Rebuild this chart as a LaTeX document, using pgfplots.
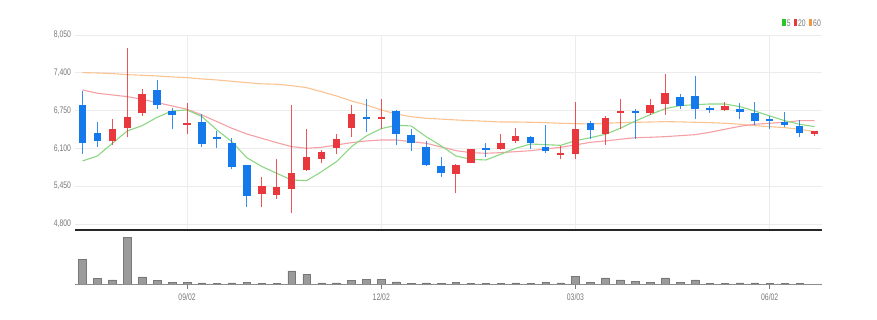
\documentclass[border=0pt]{standalone}
\usepackage{pgfplots}
\pgfplotsset{compat=1.18}
\usepackage{fontspec}
\setmainfont{Liberation Sans}[FakeStretch=0.72]
\definecolor{cred}{RGB}{232,56,61}
\definecolor{cblue}{RGB}{20,122,236}
\definecolor{cma5}{RGB}{140,215,130}
\definecolor{cma20}{RGB}{245,160,165}
\definecolor{cma60}{RGB}{250,195,145}
\definecolor{cgrid}{RGB}{236,236,236}
\definecolor{clabel}{RGB}{120,120,120}
\definecolor{cvol}{RGB}{155,155,155}
\definecolor{cvoledge}{RGB}{120,120,120}
\definecolor{cbase}{RGB}{140,140,140}
\definecolor{lg}{RGB}{40,200,40}
\definecolor{lr}{RGB}{232,56,61}
\definecolor{lo}{RGB}{245,150,60}
\begin{document}
\begin{tikzpicture}
\useasboundingbox (0,0) rectangle (877pt,320pt);
\begin{axis}[
  at={(75pt,90pt)}, anchor=south west, scale only axis,
  width=747pt, height=195pt,
  xmin=-0.5, xmax=49.5, ymin=4697, ymax=8050,
  ytick={4800,5450,6100,6750,7400,8050},
  xtick={7,20,33,46}, xticklabels={},
  ymajorgrids, xmajorgrids, grid style={color=cgrid, line width=0.8pt},
  axis line style={draw=none}, major tick length=0pt,
  yticklabel style={font=\fontsize{9.5}{11}\selectfont, text=clabel, xshift=-0.5pt},
  /pgf/number format/assume math mode=true,
  unbounded coords=jump,
]
% moving averages
\addplot[cma60, line width=1.1pt, mark=none] coordinates {
(0,7403)(1,7397)(2,7386)(3,7368)(4,7357)(5,7346)(6,7328)(7,7317)(8,7294)(9,7277)
(10,7254)(11,7231)(12,7210)(13,7203)(14,7179)(15,7145)(16,7076)(17,7002)(18,6916)(19,6847)
(20,6761)(21,6692)(22,6646)(23,6618)(24,6604)(25,6589)(26,6577)(27,6566)(28,6554)(29,6554)
(30,6549)(31,6543)(32,6532)(33,6526)(34,6520)(35,6532)(36,6543)(37,6548)(38,6554)(39,6560)
(40,6556)(41,6549)(42,6543)(43,6532)(44,6515)(45,6491)(46,6474)(47,6457)(48,6429)(49,6388)};
\addplot[cma20, line width=1.1pt, mark=none] coordinates {
(0,7105)(1,7048)(2,7019)(3,6990)(4,6944)(5,6887)(6,6830)(7,6773)(8,6675)(9,6560)
(10,6446)(11,6348)(12,6274)(13,6199)(14,6130)(15,6102)(16,6119)(17,6159)(18,6199)(19,6228)
(20,6245)(21,6245)(22,6216)(23,6188)(24,6125)(25,6061)(26,6027)(27,6016)(28,6027)(29,6044)
(30,6061)(31,6090)(32,6119)(33,6159)(34,6205)(35,6228)(36,6257)(37,6284)(38,6291)(39,6302)
(40,6319)(41,6336)(42,6377)(43,6429)(44,6480)(45,6515)(46,6532)(47,6549)(48,6577)(49,6577)};
\addplot[cma5, line width=1.1pt, mark=none] coordinates {
(0,5884)(1,5970)(2,6188)(3,6400)(4,6491)(5,6635)(6,6744)(7,6761)(8,6646)(9,6417)
(10,6216)(11,5940)(12,5790)(13,5672)(14,5557)(15,5545)(16,5700)(17,5872)(18,6130)(19,6314)
(20,6440)(21,6498)(22,6486)(23,6302)(24,6145)(25,5970)(26,5912)(27,5901)(28,5999)(29,6102)
(30,6176)(31,6164)(32,6153)(33,6233)(34,6284)(35,6343)(36,6446)(37,6570)(38,6680)(39,6783)
(40,6835)(41,6852)(42,6864)(43,6864)(44,6818)(45,6744)(46,6658)(47,6577)(48,6515)(49,6474)};
% red (rising) wicks
\addplot[cred, line width=1pt, mark=none, opacity=0.85] coordinates {
(2,6159)(2,6601)(2,nan) (3,6291)(3,7822)(3,nan) (4,6658)(4,7122)(4,nan)
(7,6343)(7,6876)(7,nan) (12,5087)(12,5603)(12,nan) (13,5235)(13,5923)(13,nan)
(14,4994)(14,6847)(14,nan) (15,5712)(15,6429)(15,nan) (16,5844)(16,6073)(16,nan)
(17,6004)(17,6343)(17,nan) (18,6291)(18,6847)(18,nan) (20,6429)(20,6944)(20,nan)
(25,5328)(25,5827)(25,nan) (26,5844)(26,6085)(26,nan) (28,6073)(28,6343)(28,nan)
(29,6188)(29,6446)(29,nan) (32,5912)(32,6142)(32,nan) (33,5912)(33,6893)(33,nan)
(35,6159)(35,6658)(35,nan) (36,6429)(36,6950)(36,nan) (38,6680)(38,6944)(38,nan)
(39,6670)(39,7375)(39,nan) (43,6738)(43,6904)(43,nan) (49,6314)(49,6405)};
% red bodies
\addplot[cred, line width=7.5pt, mark=none] coordinates {
(2,6228)(2,6440)(2,nan) (3,6457)(3,6635)(3,nan) (4,6704)(4,7036)(4,nan)
(7,6508)(7,6537)(7,nan) (12,5316)(12,5454)(12,nan) (13,5304)(13,5442)(13,nan)
(14,5397)(14,5672)(14,nan) (15,5729)(15,5952)(15,nan) (16,5923)(16,6038)(16,nan)
(17,6107)(17,6257)(17,nan) (18,6457)(18,6697)(18,nan) (20,6605)(20,6635)(20,nan)
(25,5660)(25,5820)(25,nan) (26,5855)(26,6085)(26,nan) (28,6090)(28,6199)(28,nan)
(29,6222)(29,6314)(29,nan) (32,5995)(32,6025)(32,nan) (33,6004)(33,6440)(33,nan)
(35,6343)(35,6618)(35,nan) (36,6710)(36,6740)(36,nan) (38,6714)(38,6852)(38,nan)
(39,6864)(39,7053)(39,nan) (43,6755)(43,6824)(43,nan) (49,6353)(49,6400)};
% blue (falling) wicks
\addplot[cblue, line width=1pt, mark=none, opacity=0.85] coordinates {
(0,6004)(0,7088)(0,nan) (1,6119)(1,6549)(1,nan) (5,6778)(5,7277)(5,nan)
(6,6429)(6,6790)(6,nan) (8,6119)(8,6692)(8,nan) (9,6107)(9,6405)(9,nan)
(10,5741)(10,6274)(10,nan) (11,5098)(11,5820)(11,nan) (19,6388)(19,6950)(19,nan)
(21,6153)(21,6761)(21,nan) (22,6061)(22,6434)(22,nan) (23,5798)(23,6222)(23,nan)
(24,5614)(24,5947)(24,nan) (27,5947)(27,6199)(27,nan) (30,6090)(30,6314)(30,nan)
(31,6016)(31,6498)(31,nan) (34,6257)(34,6572)(34,nan) (37,6262)(37,6773)(37,nan)
(40,6783)(40,7036)(40,nan) (41,6601)(41,7351)(41,nan) (42,6714)(42,6835)(42,nan)
(44,6601)(44,6876)(44,nan) (45,6498)(45,6898)(45,nan) (46,6440)(46,6658)(46,nan)
(47,6463)(47,6726)(47,nan) (48,6291)(48,6589)};
% blue bodies
\addplot[cblue, line width=7.5pt, mark=none] coordinates {
(0,6199)(0,6847)(0,nan) (1,6228)(1,6360)(1,nan) (5,6847)(5,7105)(5,nan)
(6,6670)(6,6749)(6,nan) (8,6171)(8,6549)(8,nan) (9,6270)(9,6300)(9,nan)
(10,5775)(10,6199)(10,nan) (11,5282)(11,5820)(11,nan) (19,6610)(19,6640)(19,nan)
(21,6348)(21,6749)(21,nan) (22,6199)(22,6336)(22,nan) (23,5815)(23,6130)(23,nan)
(24,5683)(24,5798)(24,nan) (27,6070)(27,6100)(27,nan) (30,6188)(30,6302)(30,nan)
(31,6061)(31,6124)(31,nan) (34,6417)(34,6537)(34,nan) (37,6710)(37,6745)(37,nan)
(40,6830)(40,6979)(40,nan) (41,6778)(41,6996)(41,nan) (42,6765)(42,6795)(42,nan)
(44,6726)(44,6778)(44,nan) (45,6566)(45,6709)(45,nan) (46,6575)(46,6605)(46,nan)
(47,6503)(47,6549)(47,nan) (48,6360)(48,6491)};
\end{axis}
\begin{axis}[
  at={(75pt,35pt)}, anchor=south west, scale only axis,
  width=747pt, height=55pt,
  xmin=-0.5, xmax=49.5, ymin=0, ymax=550,
  axis line style={draw=none}, ytick=\empty,
  xtick={7,20,33,46}, xticklabels={09/02,12/02,03/03,06/02},
  tick align=outside, xtick pos=left, major tick length=4pt,
  tick style={color=cvoledge, line width=0.8pt},
  xticklabel style={font=\fontsize{9.5}{11}\selectfont, text=clabel, yshift=-1.5pt},
  ybar, bar width=7.5pt,
]
\addplot[fill=cvol, draw=cvoledge, line width=0.5pt] coordinates {
(0,257)(1,67)(2,50)(3,477)(4,80)(5,43)(6,27)(7,27)(8,20)(9,13)
(10,20)(11,27)(12,13)(13,13)(14,140)(15,103)(16,20)(17,20)(18,43)(19,57)
(20,57)(21,30)(22,13)(23,20)(24,17)(25,27)(26,13)(27,13)(28,13)(29,20)
(30,13)(31,27)(32,20)(33,83)(34,27)(35,70)(36,50)(37,37)(38,27)(39,70)
(40,27)(41,50)(42,13)(43,13)(44,20)(45,20)(46,13)(47,13)(48,13)(49,5)};
\draw[cbase, line width=2pt] (rel axis cs:0,0) -- (rel axis cs:1,0);
\draw[black!85, line width=1.5pt] (rel axis cs:0,1) -- (rel axis cs:1,1);
\end{axis}
\node[anchor=east, inner sep=0pt, font=\fontsize{9.5}{11}\selectfont, text=clabel] at (821pt,297pt)
 {{\color{lg}\rule{3.5pt}{7pt}}\kern1pt5\kern3pt{\color{lr}\rule{3.5pt}{7pt}}\kern1pt20\kern3pt{\color{lo}\rule{3.5pt}{7pt}}\kern1pt60};
\end{tikzpicture}
\end{document}
